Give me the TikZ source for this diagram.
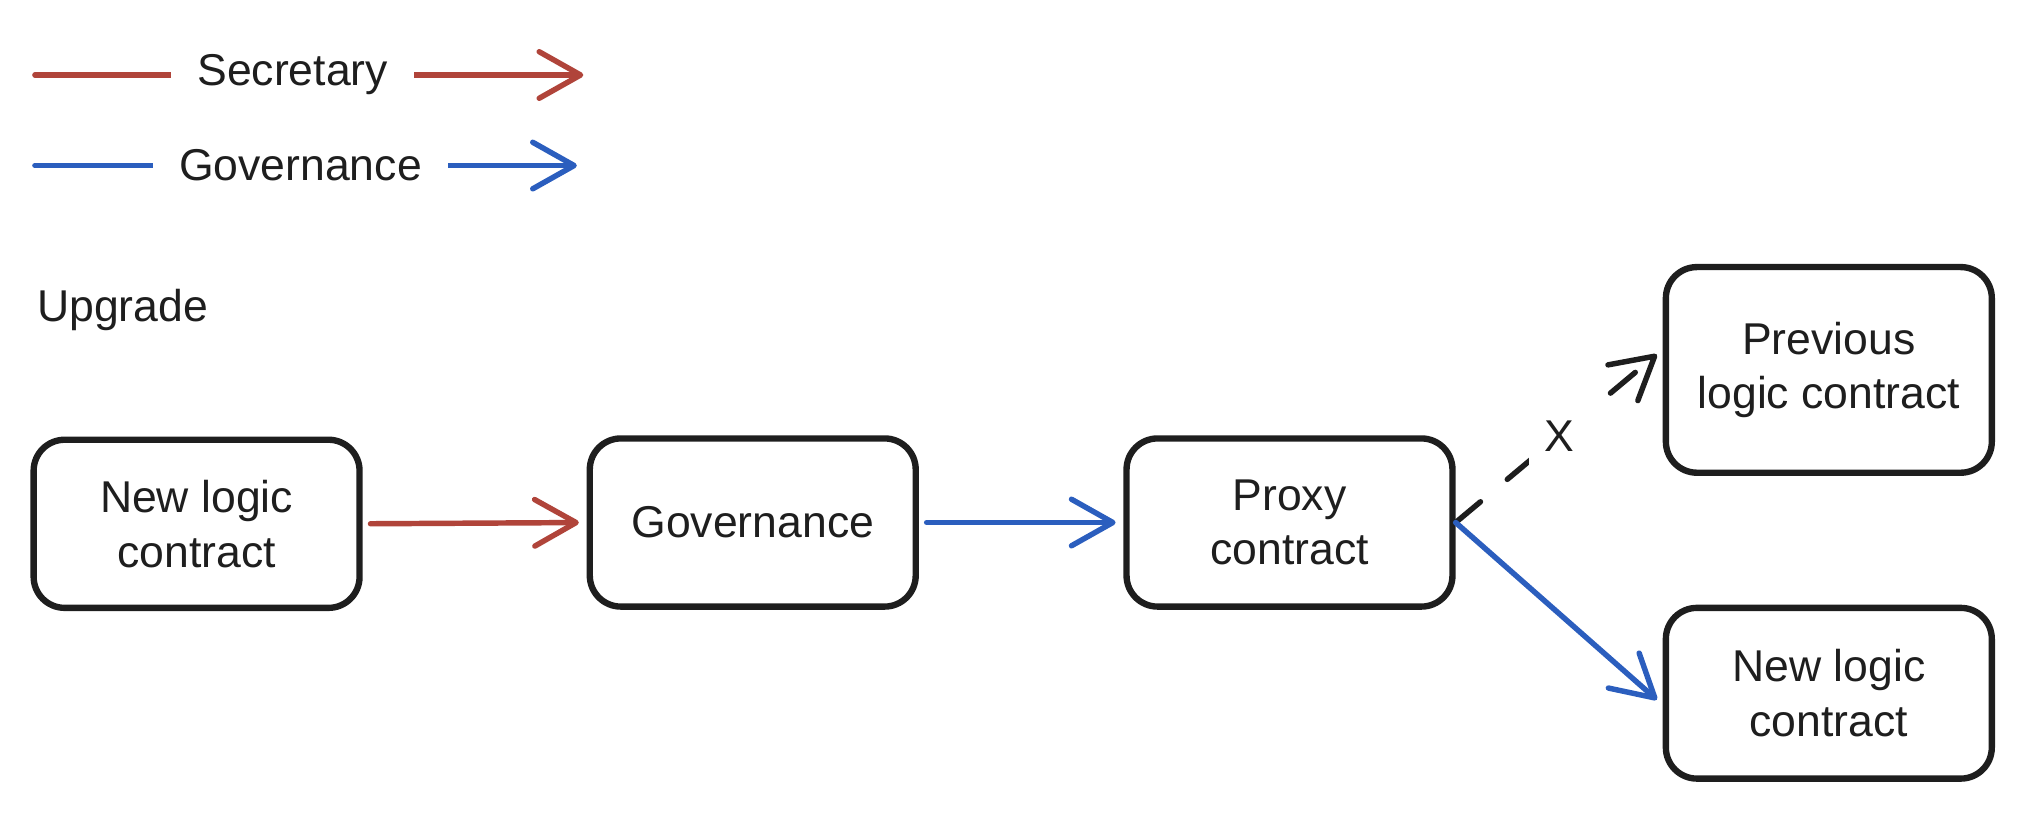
\documentclass[tikz,border=0pt]{standalone}
\usepackage{fontspec}
\setmainfont{Liberation Sans}
\usetikzlibrary{arrows.meta}
\definecolor{secred}{HTML}{B0443A}
\definecolor{govblue}{HTML}{2B5EBE}
\definecolor{inkblack}{HTML}{1E1E1E}

\begin{document}
\begin{tikzpicture}[
  font = \fontsize{9.8}{12}\selectfont,
  box/.style = {draw=inkblack, line width=1.4pt, rounded corners=0.24cm, minimum width=2.52cm, minimum height=1.3cm, align=center, text=inkblack},
  lbl/.style = {fill=white, text=inkblack, inner xsep=0.2cm},
  link/.style = {line width=1.2pt, line cap=round, -{Straight Barb[length=0.32cm, width=0.36cm, line cap=round, line join=round]}},
  gap/.style = {shorten <=0.06cm, shorten >=0.06cm}
]
\useasboundingbox (0,0) rectangle (15.68,-6.39);

% legend
\coordinate (secL) at (0.27,-0.58);
\coordinate (secR) at (4.51,-0.58);
\coordinate (govL) at (0.27,-1.28);
\coordinate (govR) at (4.46,-1.28);
\draw[link, secred] (secL) -- node[lbl, pos=0.47] {Secretary} (secR);
\draw[link, govblue] (govL) -- node[lbl, pos=0.49] {Governance} (govR);

\node[anchor = west, text=inkblack, inner sep=0pt] (upgrade) at (0.28,-2.40) {Upgrade};

% boxes
\node[box] (newlogic) at (1.52,-4.05) {New logic\\contract};
\node[box] (gov) at (5.82,-4.04) {Governance};
\node[box] (proxy) at (9.97,-4.04) {Proxy\\contract};
\node[box, minimum height=1.59cm] (prevlogic) at (14.14,-2.86) {Previous\\logic contract};
\node[box, minimum height=1.32cm] (newlogicB) at (14.14,-5.36) {New logic\\contract};

% arrows
\draw[link, gap, secred] (newlogic.east) -- (gov.west);
\draw[link, gap, govblue] (gov.east) -- (proxy.west);
\draw[link, inkblack, dash pattern=on 0.25cm off 0.27cm, shorten >=0.06cm] (proxy.east) -- node[lbl, inner sep=0.12cm] {X} (prevlogic.173);
\draw[link, govblue, shorten >=0.06cm] (proxy.east) -- (newlogicB.184);
\end{tikzpicture}
\end{document}
